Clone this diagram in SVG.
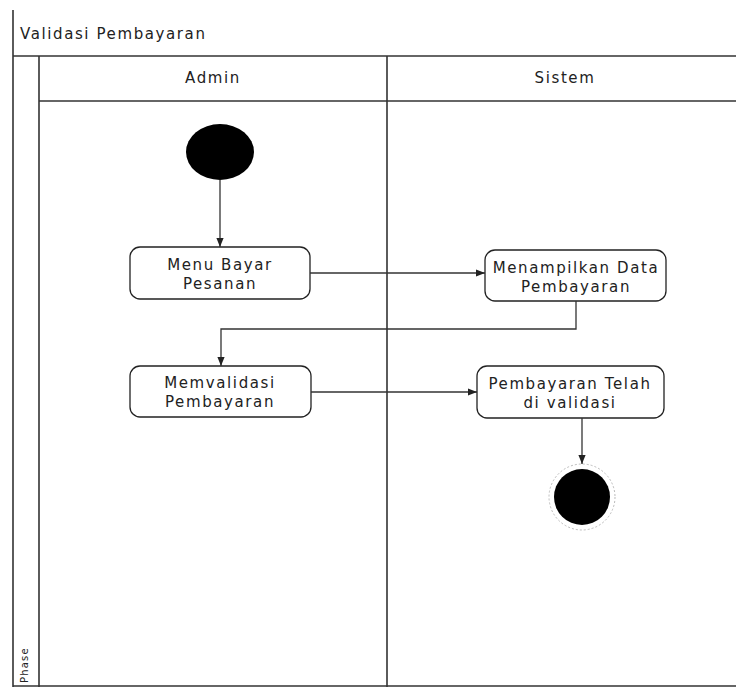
<svg xmlns="http://www.w3.org/2000/svg" width="736" height="687" viewBox="0 0 736 687">
<defs>
<style>
.frame{stroke:#333;stroke-width:1.6;fill:none}
.txt{font-family:"DejaVu Sans","Liberation Sans",sans-serif;font-size:15px;letter-spacing:1.6px;fill:#222}
.act{fill:#fff;stroke:#222;stroke-width:1.3}
.con{stroke:#333;stroke-width:1.3;fill:none}
</style>
<marker id="arr" viewBox="0 0 10 10" refX="10" refY="5" markerWidth="7" markerHeight="7" orient="auto">
<path d="M0,1 L10,5 L0,9 z" fill="#222"/>
</marker>
</defs>
<rect width="736" height="687" fill="#fff"/>
<g id="pool">
<line class="frame" x1="13" y1="10" x2="13" y2="687"/>
<line class="frame" x1="13" y1="56" x2="736" y2="56"/>
<line class="frame" x1="39" y1="56" x2="39" y2="687"/>
<line class="frame" x1="39" y1="101" x2="736" y2="101"/>
<line class="frame" x1="387" y1="56" x2="387" y2="687"/>
<line class="frame" x1="13" y1="686" x2="736" y2="686"/>
<text class="txt" x="20" y="39">Validasi Pembayaran</text>
<text class="txt" x="213" y="83" text-anchor="middle">Admin</text>
<text class="txt" x="565" y="83" text-anchor="middle">Sistem</text>
<text class="txt" x="0" y="0" style="font-size:10px;letter-spacing:1.2px" transform="translate(28,683) rotate(-90)">Phase</text>
</g>
<g id="start">
<ellipse cx="220" cy="152" rx="34" ry="28" fill="#000"/>
</g>
<g id="menu-bayar">
<rect class="act" x="130" y="247" width="180" height="52" rx="10"/>
<text class="txt" x="220" y="270" text-anchor="middle">Menu Bayar</text>
<text class="txt" x="220" y="289" text-anchor="middle">Pesanan</text>
</g>
<g id="menampilkan">
<rect class="act" x="485" y="250" width="181" height="51" rx="10"/>
<text class="txt" x="576" y="273" text-anchor="middle">Menampilkan Data</text>
<text class="txt" x="576" y="292" text-anchor="middle">Pembayaran</text>
</g>
<g id="memvalidasi">
<rect class="act" x="130" y="366" width="181" height="51" rx="10"/>
<text class="txt" x="220" y="388" text-anchor="middle">Memvalidasi</text>
<text class="txt" x="220" y="407" text-anchor="middle">Pembayaran</text>
</g>
<g id="telah-validasi">
<rect class="act" x="477" y="366" width="187" height="52" rx="10"/>
<text class="txt" x="570" y="389" text-anchor="middle">Pembayaran Telah</text>
<text class="txt" x="570" y="408" text-anchor="middle">di validasi</text>
</g>
<g id="end">
<circle cx="582" cy="497" r="33" fill="#fff" stroke="#bbb" stroke-width="1" stroke-dasharray="2,2"/>
<circle cx="582" cy="497" r="28" fill="#000"/>
</g>
<g id="connectors">
<line class="con" x1="220" y1="180" x2="220" y2="247" marker-end="url(#arr)"/>
<line class="con" x1="310" y1="273" x2="485" y2="273" marker-end="url(#arr)"/>
<polyline class="con" points="576,301 576,329 221,329 221,366" marker-end="url(#arr)"/>
<line class="con" x1="311" y1="392" x2="477" y2="392" marker-end="url(#arr)"/>
<line class="con" x1="582" y1="418" x2="582" y2="464" marker-end="url(#arr)"/>
</g>
</svg>
